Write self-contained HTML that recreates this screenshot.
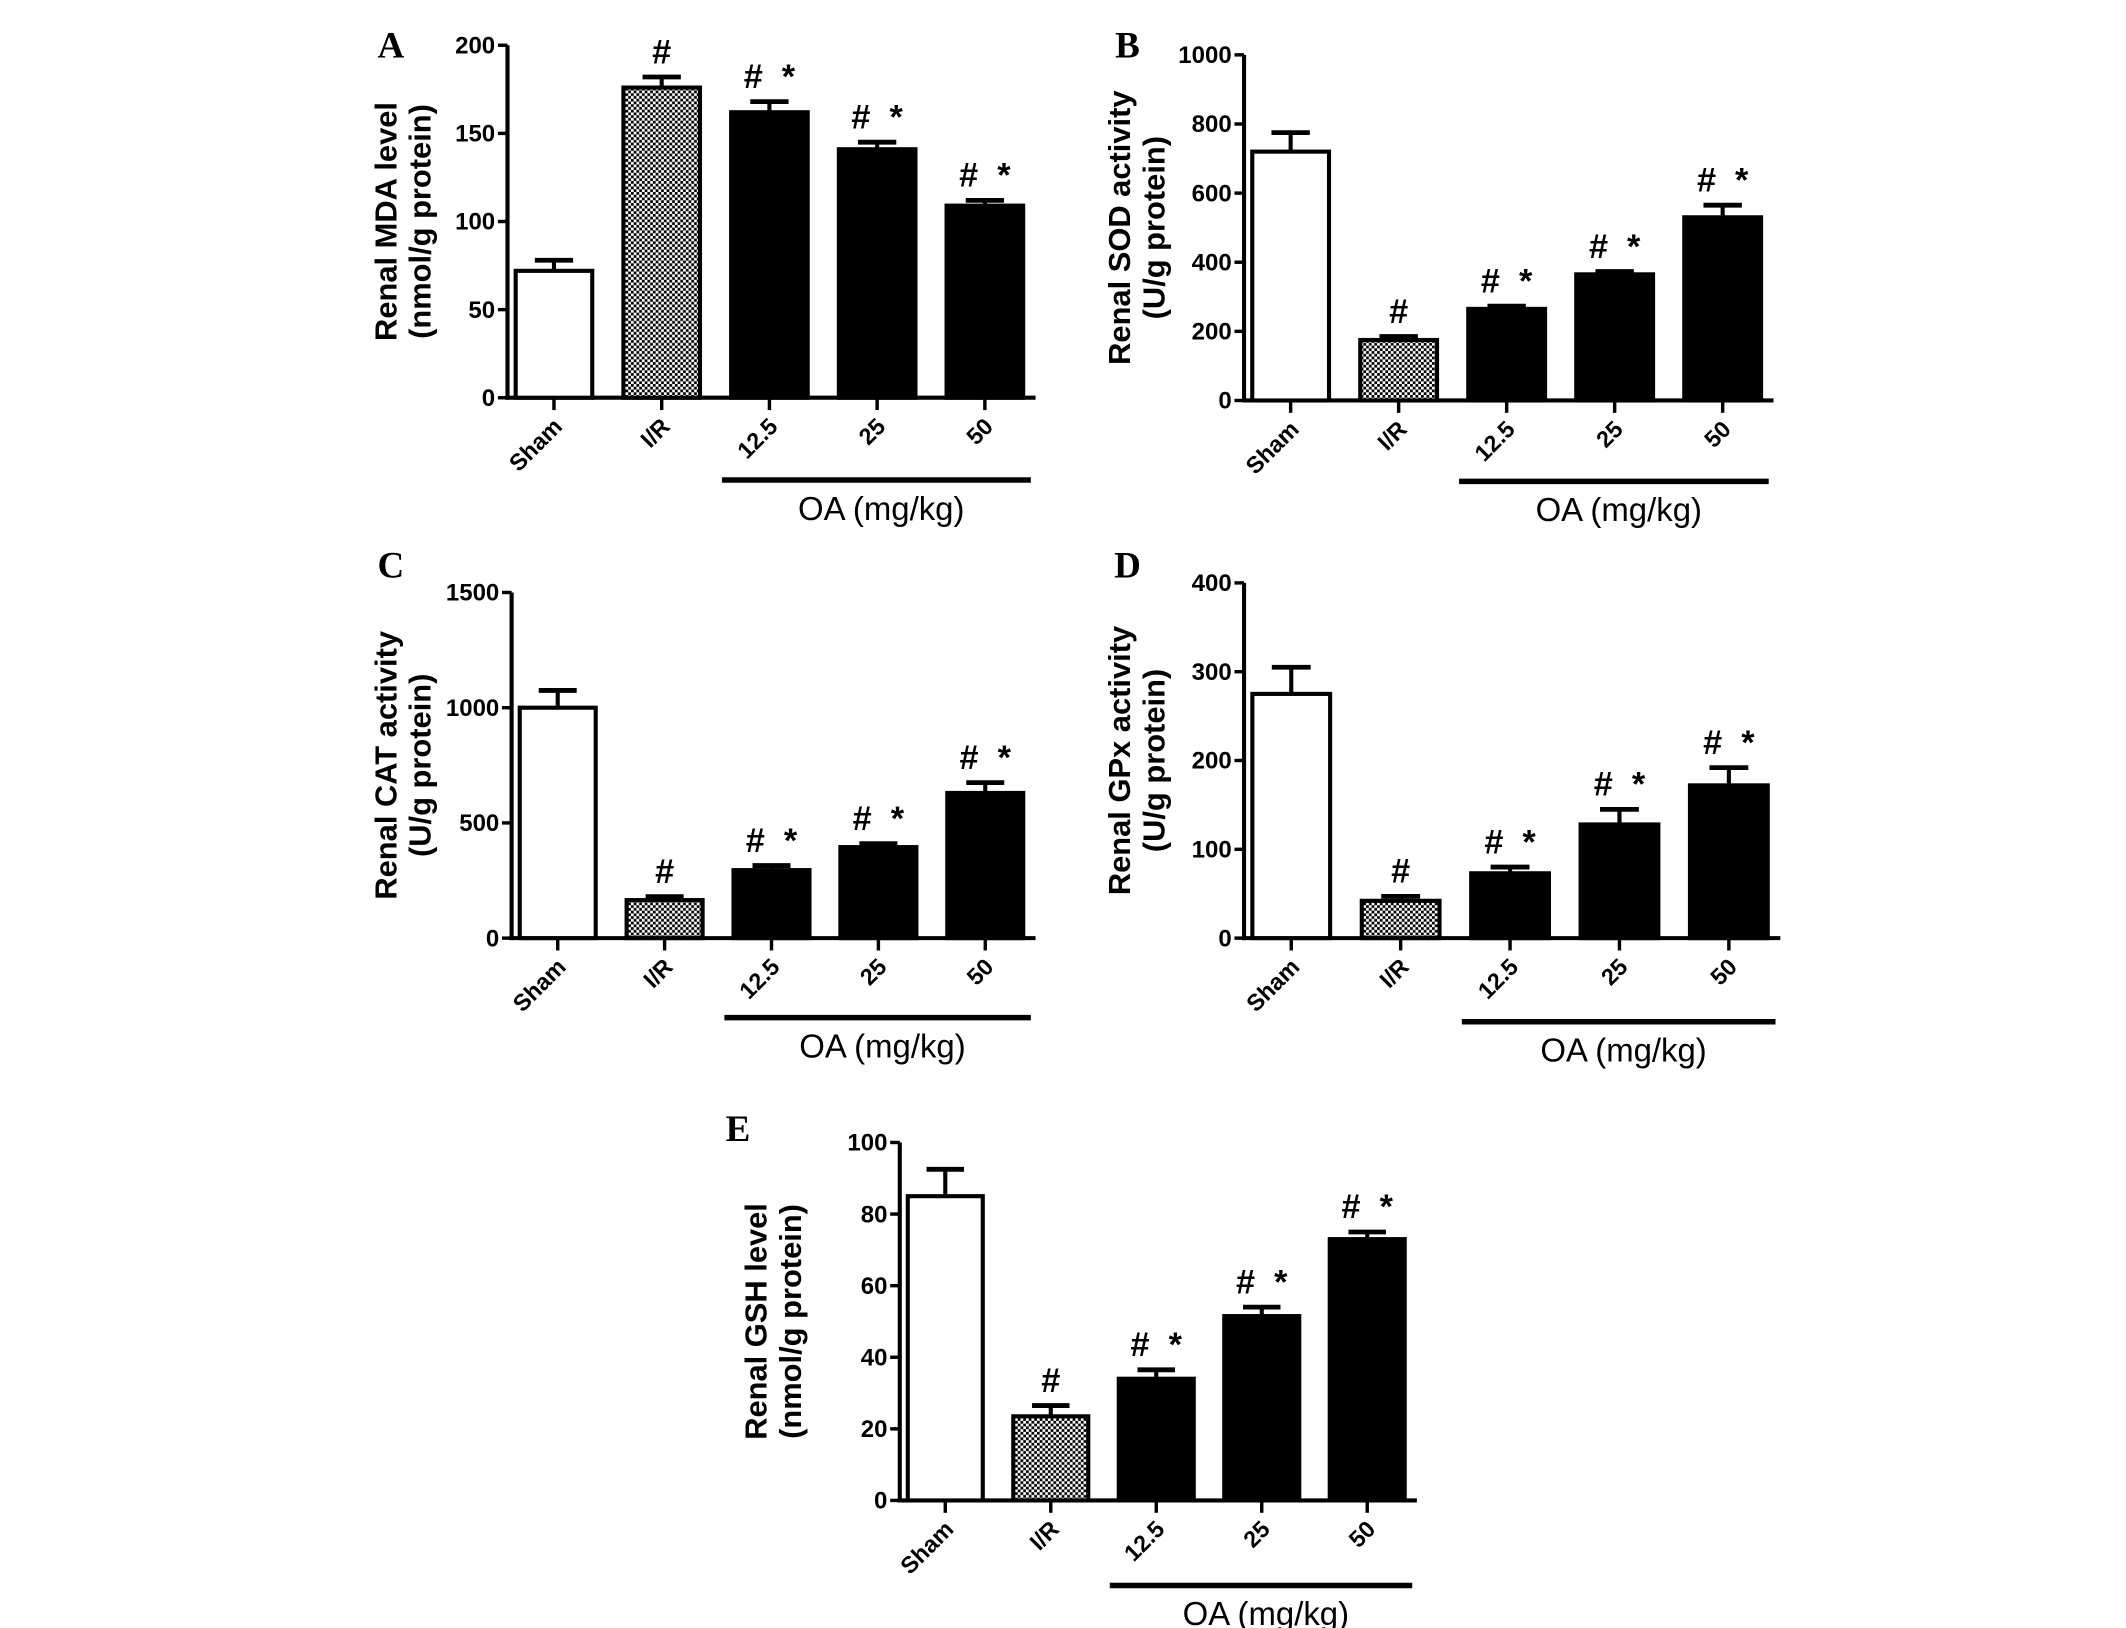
<!DOCTYPE html>
<html><head><meta charset="utf-8"><style>
html,body{margin:0;padding:0;background:#fff;}
svg{display:block;}
text{font-family:"Liberation Sans",Arial,sans-serif;font-weight:bold;fill:#000;}
</style></head>
<body>
<svg id="fig" width="2126" height="1628" viewBox="0 0 1550 1187" preserveAspectRatio="none" xmlns="http://www.w3.org/2000/svg">
<defs>
<pattern id="chk" width="4" height="4" patternUnits="userSpaceOnUse">
<rect width="4" height="4" fill="#fff"/><rect width="2" height="2" fill="#000"/><rect x="2" y="2" width="2" height="2" fill="#000"/>
</pattern>
</defs>
</svg>
<script>
const categories = ["Sham","I/R","12.5","25","50"];
const mdaValues = [72,176,162,141,109];
const mdaErrors = [6,6,6,4,3];
const sodValues = [720,175,265,365,530];
const sodErrors = [55,10,8,8,35];
const catValues = [1000,165,295,395,630];
const catErrors = [75,15,20,15,45];
const gpxValues = [275,42,73,128,172];
const gpxErrors = [30,5,7,17,20];
const gshValues = [85,23.5,34,51.5,73];
const gshErrors = [7.5,3,2.5,2.5,2];
const mdaTicks = [0,50,100,150,200];
const sodTicks = [0,200,400,600,800,1000];
const catTicks = [0,500,1000,1500];
const gpxTicks = [0,100,200,300,400];
const gshTicks = [0,20,40,60,80,100];
const annotations = ["","#","# *","# *","# *"];

const NS="http://www.w3.org/2000/svg";
const svg=document.getElementById('fig');
function mk(tag,attrs,parent){const e=document.createElementNS(NS,tag);for(const k in attrs)e.setAttribute(k,attrs[k]);(parent||svg).appendChild(e);return e;}

const panels=[
 {id:'a',letter:'A',lx:285,ly:33,x0:370,x1:755,yTop:33,y0:290,max:200,ticks:mdaTicks,vals:mdaValues,errs:mdaErrors,lab1:'Renal MDA level',lab2:'(nmol/g protein)',labX:281,lineY:350},
 {id:'b',letter:'B',lx:822,ly:33,x0:907,x1:1293,yTop:40,y0:292,max:1000,ticks:sodTicks,vals:sodValues,errs:sodErrors,lab1:'Renal SOD activity',lab2:'(U/g protein)',labX:816,lineY:351},
 {id:'c',letter:'C',lx:285,ly:412,x0:373,x1:755,yTop:432,y0:684,max:1500,ticks:catTicks,vals:catValues,errs:catErrors,lab1:'Renal CAT activity',lab2:'(U/g protein)',labX:281,lineY:742},
 {id:'d',letter:'D',lx:822,ly:412,x0:907,x1:1298,yTop:425,y0:684,max:400,ticks:gpxTicks,vals:gpxValues,errs:gpxErrors,lab1:'Renal GPx activity',lab2:'(U/g protein)',labX:816,lineY:745},
 {id:'e',letter:'E',lx:538,ly:823,x0:656,x1:1033,yTop:833,y0:1094,max:100,ticks:gshTicks,vals:gshValues,errs:gshErrors,lab1:'Renal GSH level',lab2:'(nmol/g protein)',labX:551,lineY:1156}
];

panels.forEach(p=>{
 const g=mk('g',{});
 
 
 const W=p.x1-p.x0;
 const y=v=>p.y0-(v/p.max)*(p.y0-p.yTop);
 const cx=i=>p.x0+W*(0.088+0.204*i);
 const bw=W*0.145;
 const L=mk('text',{x:p.lx,y:p.ly+9,'font-size':27,'text-anchor':'middle',style:'font-family:"Liberation Serif",serif'},g);
 L.textContent=p.letter;
 
 
 const ya=mk('line',{x1:p.x0,y1:p.yTop,x2:p.x0,y2:p.y0+1.5,stroke:'#000','stroke-width':3},g);
 
 
 p.ticks.forEach(t=>{
  mk('line',{x1:p.x0-7,y1:y(t),x2:p.x0,y2:y(t),stroke:'#000','stroke-width':2.5},g);
  const tl=mk('text',{x:p.x0-9,y:y(t)+6,'font-size':17.5,'text-anchor':'end'},g);
  tl.textContent=t;
  
  
 });
 const xa=mk('line',{x1:p.x0-1.5,y1:p.y0,x2:p.x1,y2:p.y0,stroke:'#000','stroke-width':3},g);
 
 
 const midY=(p.yTop+p.y0)/2;
 const yt=mk('text',{transform:`translate(${p.labX+8},${midY}) rotate(-90)`,'font-size':22.5,'text-anchor':'middle'},g);
 yt.textContent=p.lab1;
 
 
 const yt2=mk('text',{transform:`translate(${p.labX+33},${midY}) rotate(-90)`,'font-size':22.5,'text-anchor':'middle'},g);
 yt2.textContent=p.lab2;
 
 
 categories.forEach((c,i)=>{
  const x=cx(i),v=p.vals[i],e=p.errs[i];
  mk('line',{x1:x,y1:y(v),x2:x,y2:y(v+e),stroke:'#000','stroke-width':3},g);
  mk('line',{x1:x-bw*0.25,y1:y(v+e),x2:x+bw*0.25,y2:y(v+e),stroke:'#000','stroke-width':3.5},g);
  const fill=i==0?'#fff':(i==1?'url(#chk)':'#000');
  const b=mk('rect',{x:x-bw/2,y:y(v),width:bw,height:p.y0-y(v),fill:fill,stroke:'#000','stroke-width':3},g);
  
  
  mk('line',{x1:x,y1:p.y0,x2:x,y2:p.y0+9,stroke:'#000','stroke-width':2.5},g);
  const cl=mk('text',{transform:`translate(${x+7},${p.y0+22}) rotate(-45)`,'font-size':17,'text-anchor':'end'},g);
  cl.textContent=c;
  
  
  if(annotations[i]){
   const an=mk('text',{x:x,y:y(v+e)-10,'font-size':25,'text-anchor':'middle',style:'white-space:pre'},g);
   an.textContent=annotations[i].replace(' ','  ');
   
   
  }
 });
 const ol=mk('line',{x1:cx(2)-bw*0.62,y1:p.lineY,x2:cx(4)+bw*0.6,y2:p.lineY,stroke:'#000','stroke-width':4},g);
 
 
 const ot=mk('text',{x:cx(3)+3,y:p.lineY+29,'font-size':24,'text-anchor':'middle',style:'font-weight:normal'},g);
 ot.textContent='OA (mg/kg)';
 
 
});
</script>
</body></html>
